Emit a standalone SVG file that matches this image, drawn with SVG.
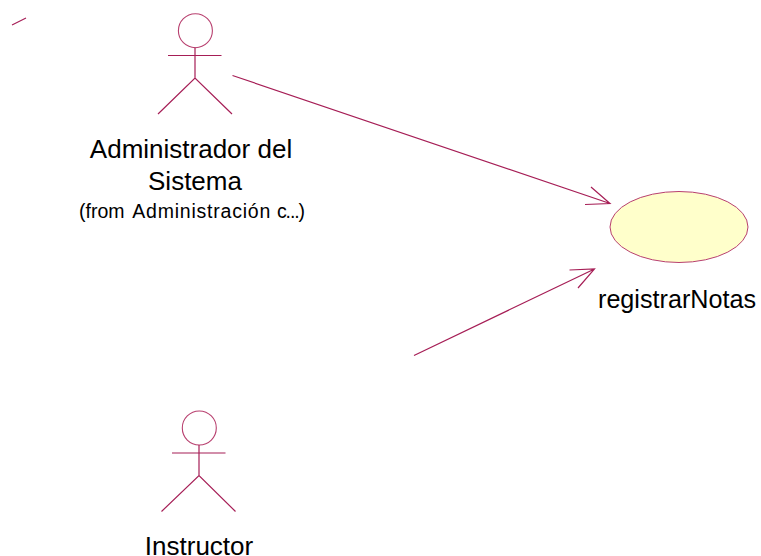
<svg xmlns="http://www.w3.org/2000/svg" width="761" height="556" viewBox="0 0 761 556">
<style>
.l{fill:none;stroke:#a61e56;stroke-width:1.2}
.h{fill:none;stroke:#b8406f;stroke-width:1.1}
.u{fill:#ffffcb;stroke:#b8406f;stroke-width:1}
text{font-family:"Liberation Sans",Arial,sans-serif;fill:#000;text-anchor:middle}
.t{font-size:26px}
.s{font-size:19.500px;text-anchor:start}
</style>
<rect width="761" height="556" fill="#fff"/>
<g id="connectors">
<path class="l" d="M12 25L26 18"/>
<path class="l" d="M232.500 75.500L610 203.500M591 187L610 203.500L585 204.500"/>
<path class="l" d="M414 355.500L594.500 269M569.500 270L594.500 269L578 288"/>
</g>
<g id="actor-admin">
<circle class="h" cx="195.400" cy="30.700" r="17"/>
<path class="l" d="M195 47.500V78M168 55.500H221.500M158 114L195 78L232 114"/>
<text class="t" x="191" y="157.500">Administrador del</text>
<text class="t" x="195" y="190">Sistema</text>
<text class="s" x="79" y="218">(from <tspan x="132.300" textLength="138" lengthAdjust="spacing">Administración</tspan> <tspan x="277" textLength="28" lengthAdjust="spacing">c...)</tspan></text>
</g>
<g id="usecase-registrarNotas">
<ellipse class="u" cx="679" cy="227" rx="69" ry="35.500"/>
<text class="t" x="677" y="307.500" textLength="158" lengthAdjust="spacingAndGlyphs">registrarNotas</text>
</g>
<g id="actor-instructor">
<circle class="h" cx="199.300" cy="428" r="17"/>
<path class="l" d="M199 445V475.500M172 453H225.500M161.500 511.500L199 475.500L235.500 511.500"/>
<text class="t" x="199" y="555">Instructor</text>
</g>
</svg>
